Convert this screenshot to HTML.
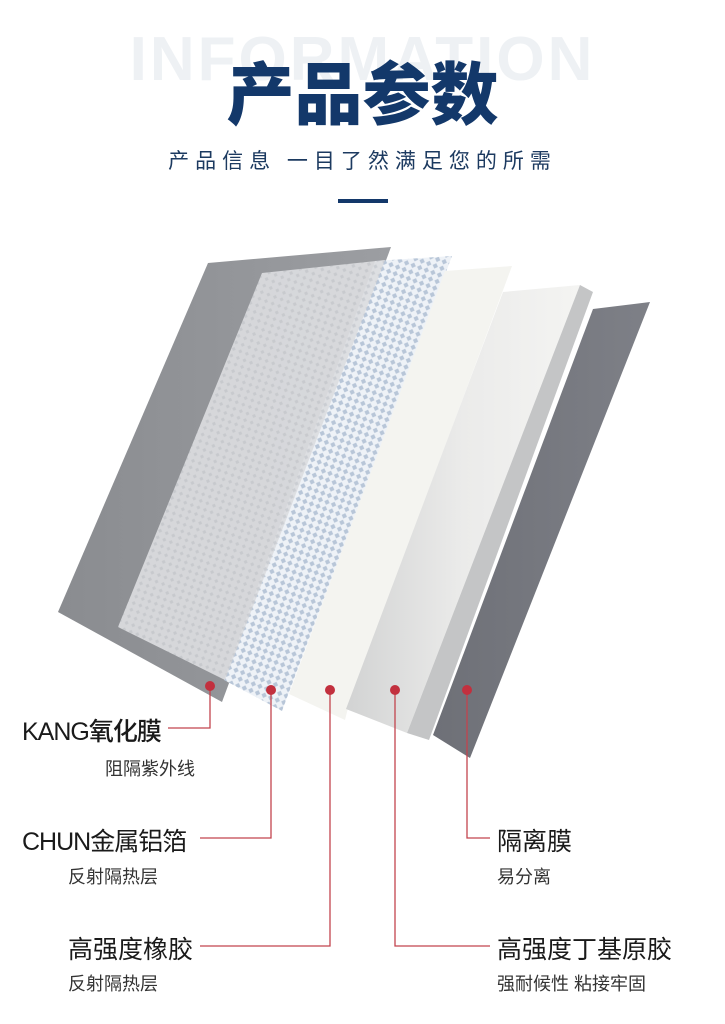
<!DOCTYPE html>
<html><head><meta charset="utf-8"><style>
body{margin:0;background:#fff;width:725px;height:1024px;overflow:hidden;position:relative;font-family:"Liberation Sans","Noto Sans CJK SC",sans-serif}
.t{position:absolute;white-space:nowrap}
</style></head><body>
<div class="t" style="left:0;width:725px;top:24px;text-align:center;font-size:62px;font-weight:bold;color:#eef1f4;letter-spacing:3px;line-height:72px">INFORMATION</div>
<div class="t" style="left:0;width:725px;top:50px;text-align:center;font-size:68px;font-weight:900;color:#13386a;line-height:80px;font-family:'Noto Sans CJK SC',sans-serif">产品参数</div>
<div class="t" style="left:0;width:725px;top:146px;text-align:center;font-size:21px;color:#1c3a60;letter-spacing:6px;line-height:28px;font-family:'Noto Sans CJK SC',sans-serif">产品信息 一目了然满足您的所需</div>
<div style="position:absolute;left:338px;top:199px;width:50px;height:4px;background:#13386a"></div>
<svg width="725" height="1024" style="position:absolute;left:0;top:0">
<defs>
<pattern id="mesh" width="7" height="7" patternUnits="userSpaceOnUse" patternTransform="rotate(20)">
<rect width="7" height="7" fill="#eef2f7"/><rect x="1" y="1" width="4" height="4" fill="#b8c6d8" transform="rotate(45 3 3)"/>
</pattern>
<pattern id="mesh2" width="7" height="7" patternUnits="userSpaceOnUse" patternTransform="rotate(20)">
<rect width="7" height="7" fill="#dcdde0"/><rect x="1.5" y="1.5" width="3" height="3" fill="#ccced2" transform="rotate(45 3 3)"/>
</pattern>
<linearGradient id="ga" x1="0" y1="0" x2="1" y2="0"><stop offset="0" stop-color="#8a8c90"/><stop offset="1" stop-color="#9c9ea2"/></linearGradient>
<linearGradient id="gs" x1="0" y1="0" x2="1" y2="0"><stop offset="0" stop-color="#d2d3d3"/><stop offset="0.5" stop-color="#ebebea"/><stop offset="1" stop-color="#f4f4f2"/></linearGradient>
<linearGradient id="gf" x1="0" y1="0" x2="1" y2="0"><stop offset="0" stop-color="#6e7077"/><stop offset="1" stop-color="#7e8087"/></linearGradient>
</defs>
<polygon points="208,263 391,247 222,702 58,612" fill="url(#ga)"/>
<polygon points="375,261 452,256 282,711 224,680" fill="url(#mesh)"/>
<polygon points="262,273 385,260 225,680 118,627" fill="url(#mesh2)" opacity="0.92"/>
<polygon points="445,271 512,266 348,708 345,720 289,694" fill="#f4f4f0"/>
<polygon points="593,309 650,302 470,758 433,735" fill="url(#gf)"/>
<polygon points="503,292 580,285 407,733 346,709" fill="url(#gs)"/>
<polygon points="580,285 593,292 429,740 407,733" fill="#c4c5c6"/>
<g stroke="#c2444e" stroke-width="1.3" fill="none">
<polyline points="168,728 210,728 210,688"/>
<polyline points="200,838 271,838 271,690"/>
<polyline points="200,946 330,946 330,690"/>
<polyline points="490,946 395,946 395,690"/>
<polyline points="490,838 467,838 467,690"/>
</g>
<g fill="#c2303e">
<circle cx="210" cy="686" r="5"/><circle cx="271" cy="690" r="5"/><circle cx="330" cy="690" r="5"/><circle cx="395" cy="690" r="5"/><circle cx="467" cy="690" r="5"/>
</g>
</svg>
<div class="t" style="left:22px;top:712px;font-size:25px;color:#1a1a1a;letter-spacing:-1px;font-weight:500">KANG氧化膜</div>
<div class="t" style="left:105px;top:755px;font-size:18px;color:#333">阻隔紫外线</div>
<div class="t" style="left:22px;top:822px;font-size:25px;color:#1a1a1a;letter-spacing:-1px">CHUN金属铝箔</div>
<div class="t" style="left:68px;top:863px;font-size:18px;color:#333">反射隔热层</div>
<div class="t" style="left:68px;top:930px;font-size:25px;color:#1a1a1a">高强度橡胶</div>
<div class="t" style="left:68px;top:970px;font-size:18px;color:#333">反射隔热层</div>
<div class="t" style="left:497px;top:822px;font-size:25px;color:#1a1a1a">隔离膜</div>
<div class="t" style="left:497px;top:863px;font-size:18px;color:#333">易分离</div>
<div class="t" style="left:497px;top:930px;font-size:25px;color:#1a1a1a">高强度丁基原胶</div>
<div class="t" style="left:497px;top:970px;font-size:18px;color:#333">强耐候性 粘接牢固</div>
</body></html>
